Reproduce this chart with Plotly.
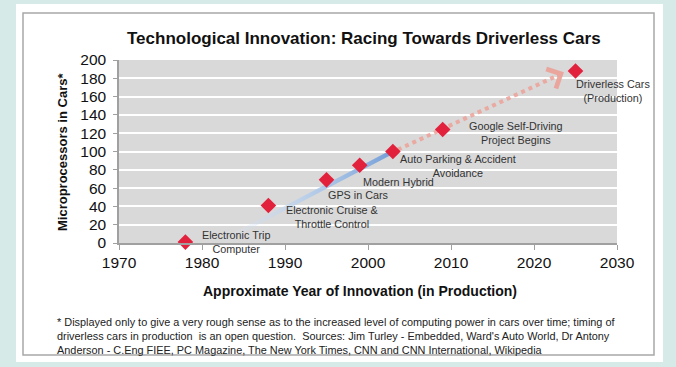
import plotly.graph_objects as go

# ---------------- data ----------------
years = [1978, 1988, 1995, 1999, 2003, 2009, 2025]
microprocessors = [1, 41, 69, 85, 100, 124, 188]
labels = [
    "Electronic Trip<br>Computer",
    "Electronic Cruise &<br>Throttle Control",
    "GPS in Cars",
    "Modern Hybrid",
    "Auto Parking & Accident<br>Avoidance",
    "Google Self-Driving<br>Project Begins",
    "Driverless Cars<br>(Production)",
]
# label offsets (pixels) relative to each point
label_dx = [51, 64, 32, 39, 65, 73, 37]
label_dy = [0, -12, -15, -17, -14, -3, -20]

trend_years = [1982, 2003]
trend_values = [0, 100]
proj_years = [2003.6, 2022.6]
proj_values = [102, 182]
arrow_tip = (2023.6, 186.5)

x_ticks = [1970, 1980, 1990, 2000, 2010, 2020, 2030]
y_ticks = list(range(0, 201, 20))

title = "Technological Innovation: Racing Towards Driverless Cars"
x_title = "Approximate Year of Innovation (in Production)"
y_title = "Microprocessors in Cars*"
footnote = ("* Displayed only to give a very rough sense as to the increased level of computing power in cars over time; timing of<br>"
            "driverless cars in production  is an open question.  Sources: Jim Turley - Embedded, Ward's Auto World, Dr Antony<br>"
            "Anderson - C.Eng FIEE, PC Magazine, The New York Times, CNN and CNN International, Wikipedia")

# ---------------- layout geometry ----------------
W, H = 676, 367
L, R, T, B = 119, 617, 60, 243   # plot area in pixels
FONT = "Arial, Liberation Sans, sans-serif"

def px(x):
    return (x - L) / (R - L)

def py(y):
    return (B - y) / (B - T)

fig = go.Figure()

# blue gradient trend (thin band polygon)
hw = 2.6
fig.add_trace(go.Scatter(
    x=[trend_years[0], trend_years[1], trend_years[1], trend_years[0], trend_years[0]],
    y=[trend_values[0] - hw, trend_values[1] - hw, trend_values[1] + hw, trend_values[0] + hw, trend_values[0] - hw],
    mode="lines", line=dict(width=0), fill="toself",
    fillgradient=dict(type="horizontal",
                      colorscale=[[0, "rgba(225,235,248,0.0)"], [0.5, "rgba(178,205,237,0.8)"], [1, "rgba(115,158,216,1)"]]),
    hoverinfo="skip", showlegend=False))

# pink dotted projection
fig.add_trace(go.Scatter(
    x=proj_years, y=proj_values, mode="lines",
    line=dict(color="rgba(236,160,150,0.85)", width=4, dash="dot"),
    hoverinfo="skip", showlegend=False))

# markers
fig.add_trace(go.Scatter(
    x=years, y=microprocessors, mode="markers", cliponaxis=False,
    marker=dict(symbol="diamond", size=12, color="#e2213d", line=dict(width=0)),
    showlegend=False))

annotations = []
for xv, yv, t, dx, dy in zip(years, microprocessors, labels, label_dx, label_dy):
    annotations.append(dict(x=xv, y=yv, xref="x", yref="y", text=t, showarrow=False,
                            xshift=dx, yshift=dy, align="center",
                            font=dict(family=FONT, size=10.8, color="#333333")))

# arrowhead for projection
annotations.append(dict(x=arrow_tip[0], y=arrow_tip[1], ax=proj_years[1], ay=proj_values[1],
                        xref="x", yref="y", axref="x", ayref="y", text="", showarrow=True,
                        arrowhead=4, arrowsize=1.4, arrowwidth=3, arrowcolor="rgba(236,160,150,0.9)",
                        standoff=0))

annotations.append(dict(x=px(364), y=py(38), xref="paper", yref="paper", text="<b>" + title + "</b>",
                        showarrow=False, xanchor="center", yanchor="middle",
                        font=dict(family=FONT, size=17, color="#111111")))
annotations.append(dict(x=px(360), y=py(291), xref="paper", yref="paper", text="<b>" + x_title + "</b>",
                        showarrow=False, xanchor="center", yanchor="middle",
                        font=dict(family=FONT, size=14, color="#111111")))
annotations.append(dict(x=px(62), y=py(152), xref="paper", yref="paper", text="<b>" + y_title + "</b>",
                        showarrow=False, xanchor="center", yanchor="middle", textangle=-90,
                        font=dict(family=FONT, size=13, color="#111111")))
annotations.append(dict(x=px(55), y=py(314), xref="paper", yref="paper", text=footnote,
                        showarrow=False, xanchor="left", yanchor="top", align="left",
                        font=dict(family=FONT, size=10.9, color="#222222")))

shapes = [
    # white panel
    dict(type="rect", xref="paper", yref="paper", x0=px(16), x1=px(663), y0=py(4), y1=py(362),
         fillcolor="white", line=dict(width=0), layer="below"),
    # inner border
    dict(type="rect", xref="paper", yref="paper", x0=px(23), x1=px(654), y0=py(13), y1=py(355),
         fillcolor="rgba(0,0,0,0)", line=dict(color="#a8a8a8", width=1.5), layer="below"),
    # gray plot background
    dict(type="rect", xref="x", yref="y", x0=x_ticks[0], x1=x_ticks[-1], y0=y_ticks[0], y1=y_ticks[-1],
         fillcolor="#d9d9d9", line=dict(width=0), layer="below"),
]

fig.update_layout(
    width=W, height=H,
    margin=dict(l=L, r=W - R, t=T, b=H - B),
    paper_bgcolor="#d6eae8",
    plot_bgcolor="rgba(0,0,0,0)",
    showlegend=False,
    annotations=annotations,
    shapes=shapes,
    font=dict(family=FONT, color="#111111"),
)
fig.update_xaxes(range=[x_ticks[0], x_ticks[-1]], tickvals=x_ticks, ticktext=[str(v) for v in x_ticks],
                 showgrid=False, zeroline=False, showline=True, linecolor="#a0a0a0", linewidth=1.5,
                 ticks="outside", ticklen=5, tickcolor="#a0a0a0", tickfont=dict(size=15.5, color="#111111"))
fig.update_yaxes(range=[y_ticks[0], y_ticks[-1]], tickvals=y_ticks, ticktext=[str(v) for v in y_ticks],
                 showgrid=True, gridcolor="white", gridwidth=2, zeroline=False,
                 showline=True, linecolor="#a0a0a0", linewidth=1.5,
                 ticks="outside", ticklen=4, tickcolor="#a0a0a0", ticklabelstandoff=4,
                 tickfont=dict(size=15.5, color="#111111"))

fig.write_html("out.html", config={"displayModeBar": False},
               post_script="document.body.style.margin='0';")
